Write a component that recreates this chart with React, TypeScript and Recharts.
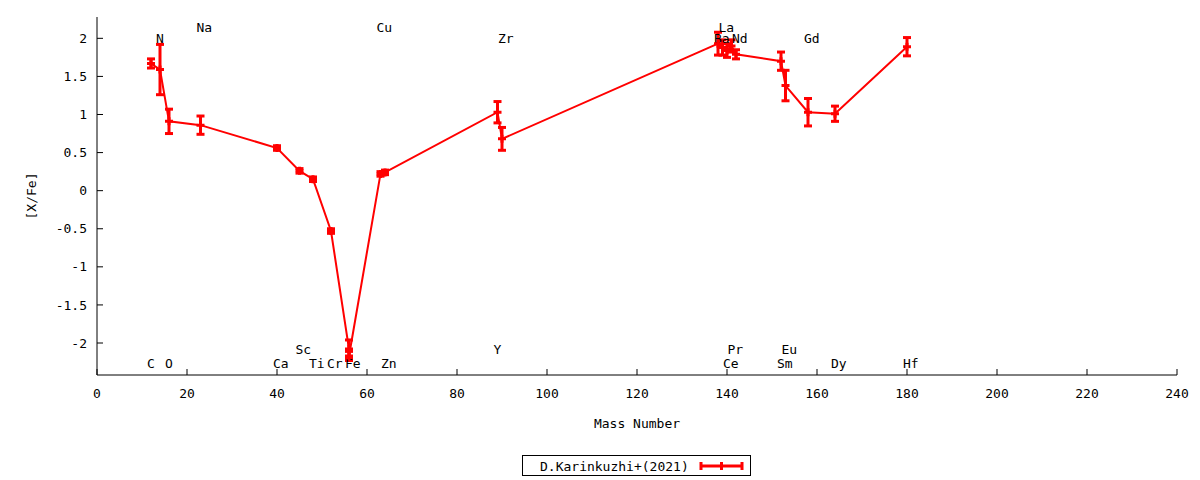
import { ComposedChart, Line, Scatter, XAxis, YAxis, ErrorBar, Legend } from "recharts";

// abundance pattern, one entry per measured isotope (mass number -> [X/Fe] with 1-sigma)
const MASS = [12, 14, 16, 23, 40, 45, 48, 52, 56, 56, 63, 64, 89, 90, 138, 139, 140, 141, 142, 152, 153, 158, 164, 180];
const XFE = [1.67, 1.59, 0.91, 0.86, 0.56, 0.26, 0.15, -0.53, -2.08, -2.17, 0.22, 0.24, 1.03, 0.68, 1.93, 1.88, 1.84, 1.9, 1.79, 1.7, 1.38, 1.03, 1.01, 1.89];
const ERR = [0.06, 0.33, 0.16, 0.12, 0.03, 0.03, 0.03, 0.03, 0.12, 0.06, 0.03, 0.03, 0.14, 0.15, 0.15, 0.1, 0.09, 0.08, 0.06, 0.12, 0.2, 0.18, 0.1, 0.12];

// element name annotations
const EL_NAME = ["C", "N", "O", "Na", "Ca", "Sc", "Ti", "Cr", "Fe", "Cu", "Zn", "Y", "Zr", "Ba", "La", "Ce", "Pr", "Nd", "Sm", "Eu", "Gd", "Dy", "Hf"];
const EL_MASS = [12, 14, 16, 23, 40, 45, 48, 52, 56, 63, 64, 89, 90, 138, 139, 140, 141, 142, 152, 153, 158, 164, 180];
const EL_Y = [-2.27, 2.0, -2.27, 2.14, -2.27, -2.08, -2.27, -2.27, -2.27, 2.14, -2.27, -2.08, 2.0, 2.0, 2.14, -2.27, -2.08, 2.0, -2.27, -2.08, 2.0, -2.27, -2.27];

const X_TICKS = [0, 20, 40, 60, 80, 100, 120, 140, 160, 180, 200, 220, 240];
const Y_TICKS = [-2, -1.5, -1, -0.5, 0, 0.5, 1, 1.5, 2];
const SERIES_NAME = "D.Karinkuzhi+(2021)";

const RED = "#ff0000";
const FONT = "'DejaVu Sans Mono', monospace";

const points = MASS.map((m, i) => ({ mass: m, xfe: XFE[i], err: ERR[i] }));
const labels = EL_NAME.map((n, i) => ({ mass: EL_MASS[i], pos: EL_Y[i], name: n }));

const Plus = (props: any) => {
  const { cx, cy, key } = props;
  if (cx == null || cy == null) return null;
  return (
    <path
      key={key}
      d={`M${cx - 4},${cy}H${cx + 4}M${cx},${cy - 4}V${cy + 4}`}
      stroke={RED}
      strokeWidth={3}
      fill="none"
    />
  );
};

const ElementLabel = (props: any) => (
  <text x={props.cx - 4} y={props.cy} dy="0.36em" fontSize={13} fontFamily={FONT} fill="#000">
    {props.payload.name}
  </text>
);

const LegendBox = () => (
  <svg width={230} height={22} style={{ display: "block" }}>
    <rect x={0.5} y={0.5} width={228} height={20} fill="#fff" stroke="#000" />
    <text x={18} y={11} dy="0.36em" fontSize={13} fontFamily={FONT}>
      {SERIES_NAME}
    </text>
    <path d="M179,11H220M179,7V15M220,7V15M199.5,7V15" stroke={RED} strokeWidth={3} fill="none" />
  </svg>
);

export default function App() {
  return (
    <div style={{ position: "absolute", left: 0, top: 0, background: "#fff" }}>
      <ComposedChart width={1200} height={480} margin={{ top: 17, right: 23, bottom: 75, left: 37 }}>
        <XAxis
          dataKey="mass"
          type="number"
          domain={[0, 240]}
          ticks={X_TICKS}
          height={30}
          tickSize={-6}
          tickMargin={20}
          stroke="#000"
          tick={{ fontSize: 13, fontFamily: FONT, fill: "#000" }}
          label={{ value: "Mass Number", position: "bottom", offset: 14, fontSize: 13, fontFamily: FONT, fill: "#000" }}
          allowDataOverflow
        />
        <XAxis xAxisId="top" dataKey="mass" type="number" orientation="top" domain={[0, 240]} ticks={X_TICKS} height={0} tickSize={-6} tick={false} stroke="#000" />
        <YAxis
          type="number"
          domain={[-2.42, 2.28]}
          ticks={Y_TICKS}
          width={60}
          tickSize={-6}
          tickMargin={16}
          stroke="#000"
          tick={{ fontSize: 13, fontFamily: FONT, fill: "#000" }}
          allowDataOverflow
          label={(p: any) => {
            const vb = p.viewBox;
            const cx = vb.x - 6;
            const cy = vb.y + vb.height / 2;
            return (
              <text x={cx} y={cy} transform={`rotate(-90 ${cx} ${cy})`} textAnchor="middle" dy="0.36em" fontSize={13} fontFamily={FONT} fill="#000">
                [X/Fe]
              </text>
            );
          }}
        />
        <YAxis yAxisId="right" type="number" orientation="right" domain={[-2.42, 2.28]} ticks={Y_TICKS} width={0} tickSize={-6} tick={false} stroke="#000" allowDataOverflow />
        <Scatter data={labels} dataKey="pos" shape={ElementLabel} isAnimationActive={false} legendType="none" />
        <Line
          data={points}
          dataKey="xfe"
          name={SERIES_NAME}
          stroke={RED}
          strokeWidth={2}
          dot={Plus}
          activeDot={false}
          isAnimationActive={false}
        >
          <ErrorBar dataKey="err" width={4} strokeWidth={3} stroke={RED} />
        </Line>
        <Legend
          layout="horizontal"
          verticalAlign="middle"
          content={() => <LegendBox />}
          wrapperStyle={{ left: 522, top: 455, width: 230, height: 22 }}
        />
      </ComposedChart>
    </div>
  );
}
